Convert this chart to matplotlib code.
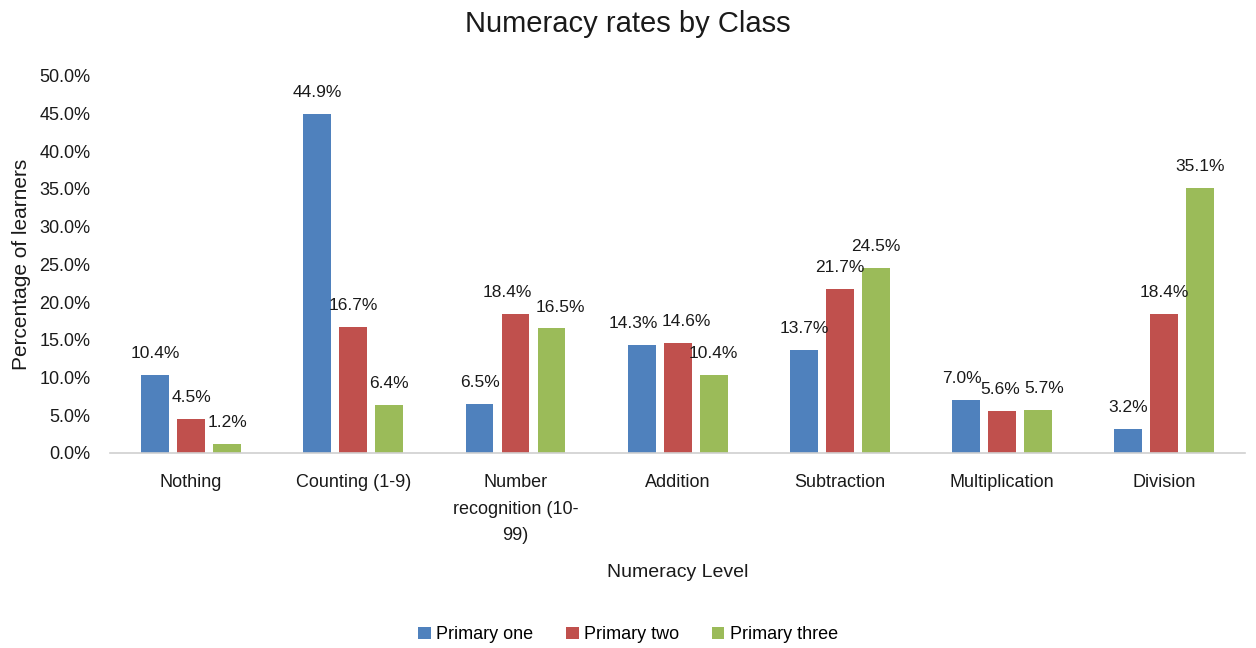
import matplotlib.pyplot as plt
import numpy as np

plt.rcParams['font.family'] = ['Liberation Sans', 'DejaVu Sans']

levels = ["Nothing", "Counting (1-9)", "Number\nrecognition (10-\n99)", "Addition",
          "Subtraction", "Multiplication", "Division"]
primary_one = [10.4, 44.9, 6.5, 14.3, 13.7, 7.0, 3.2]
primary_two = [4.5, 16.7, 18.4, 14.6, 21.7, 5.6, 18.4]
primary_three = [1.2, 6.4, 16.5, 10.4, 24.5, 5.7, 35.1]

series = [("Primary one", primary_one, "#4F81BD"),
          ("Primary two", primary_two, "#C0504D"),
          ("Primary three", primary_three, "#9BBB59")]

fig = plt.figure(figsize=(12.56, 6.48), dpi=100)
ax = fig.add_axes([0.0876, 0.301, 0.904, 0.582])

x = np.arange(len(levels))
w = 0.172
step = 0.222
labels = []
for i, (name, vals, col) in enumerate(series):
    v = np.array(vals) / 100
    bars = ax.bar(x + (i - 1) * step, v, w, color=col, label=name)
    for j, (b, val) in enumerate(zip(bars, vals)):
        t = ax.annotate(f"{val:.1f}%", (b.get_x() + b.get_width() / 2, b.get_height()),
                        xytext=(0, 10), textcoords="offset points",
                        ha="center", va="bottom", fontsize=12.5, color="#1a1a1a")
        labels.append((j, i, t))

ax.set_xlim(-0.5, len(levels) - 0.5)
ax.set_ylim(0, 0.5)
ax.set_yticks(np.arange(0, 0.501, 0.05))
ax.set_yticklabels([f"{t * 100:.1f}%" for t in np.arange(0, 0.501, 0.05)])
ax.set_xticks(x)
ax.set_xticklabels(levels, va="top", linespacing=1.75)
ax.tick_params(axis="both", length=0, labelsize=13, colors="#1a1a1a")
ax.tick_params(axis="x", pad=15)
ax.tick_params(axis="y", pad=14)
for s in ["top", "right", "left"]:
    ax.spines[s].set_visible(False)
ax.spines["bottom"].set_color("#d0d0d0")
ax.spines["bottom"].set_linewidth(1.2)

ax.set_ylabel("Percentage of learners", fontsize=15, color="#1a1a1a", labelpad=6)
ax.set_xlabel("Numeracy Level", fontsize=14, color="#1a1a1a", labelpad=14)
fig.suptitle("Numeracy rates by Class", fontsize=21, y=0.985, color="#1a1a1a")

fig.legend(loc="lower center", bbox_to_anchor=(0.5, -0.018), ncol=3, frameon=False,
           fontsize=13, handlelength=0.7, handleheight=0.7, columnspacing=1.8,
           handletextpad=0.3)

# push apart neighbouring value labels in a group that collide
fig.canvas.draw()
r = fig.canvas.get_renderer()
by_group = {}
for j, i, t in labels:
    by_group.setdefault(j, []).append((i, t))
for j, items in by_group.items():
    items.sort()
    for (_, a), (_, b) in zip(items, items[1:]):
        ea = a.get_window_extent(r)
        eb = b.get_window_extent(r)
        if ea.overlaps(eb):
            gap = (ea.x1 - eb.x0 + 4) / 2 * 72 / fig.dpi
            xa, ya = a.xyann
            xb, yb = b.xyann
            a.xyann = (xa - gap, ya)
            b.xyann = (xb + gap, yb)

fig.savefig("out.png", dpi=100)
